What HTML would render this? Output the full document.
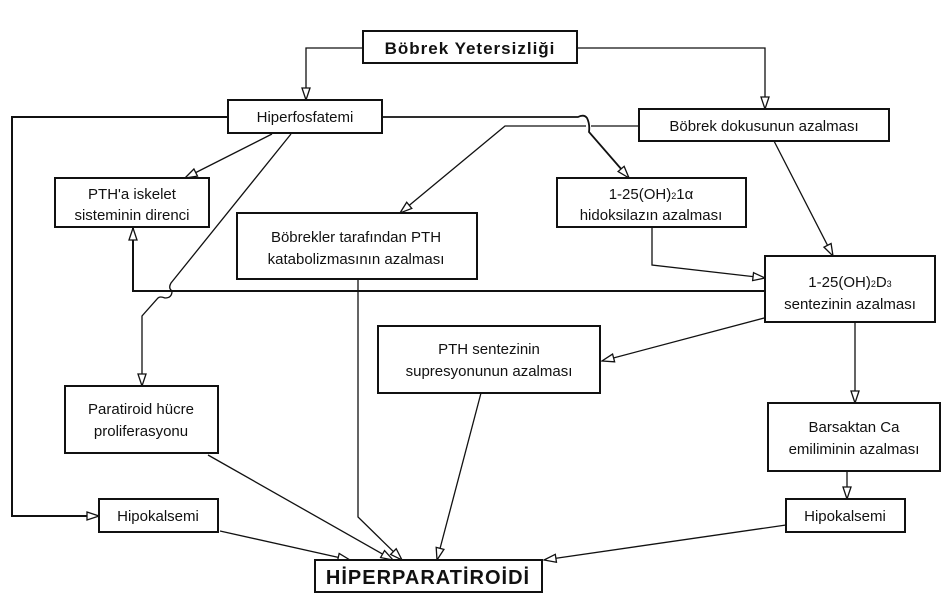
<!DOCTYPE html>
<html><head><meta charset="utf-8"><style>
body{margin:0;background:#fff}
svg{display:block}
text{font-family:"Liberation Sans",sans-serif;fill:#111;text-anchor:middle}
</style></head><body>
<svg width="952" height="595" viewBox="0 0 952 595" xmlns="http://www.w3.org/2000/svg">
<defs>
<marker id="a" viewBox="0 0 14 12" refX="13" refY="6" markerWidth="14" markerHeight="12" markerUnits="userSpaceOnUse" orient="auto">
<path d="M1,2 L13,6 L1,10 Z" fill="#fff" stroke="#111" stroke-width="1.3"/>
</marker>
</defs>
<g fill="none" stroke="#111" stroke-width="1.3">
<path d="M363,48 H306 V100" marker-end="url(#a)"/>
<path d="M578,48 H765 V109" marker-end="url(#a)"/>
<path d="M228,117 H12 V516 H99" stroke-width="2" marker-end="url(#a)"/>
<path d="M382,117 H578 Q584,114 587,118 Q590,124 589,132 L629,178" stroke-width="1.8" marker-end="url(#a)"/>
<path d="M639,126 H591 M586,126 H505 L400,213" marker-end="url(#a)"/>
<path d="M774,141 L833,256" marker-end="url(#a)"/>
<path d="M272,134 L185,178" marker-end="url(#a)"/>
<path d="M291,134 L171,283 Q168,288 172,291 Q172,298 165,298 Q160,296 158,298 L142,316 V386" marker-end="url(#a)"/>
<path d="M765,291 H133 V228" stroke-width="2" marker-end="url(#a)"/>
<path d="M358,279 V517 L402,560" marker-end="url(#a)"/>
<path d="M652,227 V265 L765,278" marker-end="url(#a)"/>
<path d="M768,317 L602,361" marker-end="url(#a)"/>
<path d="M855,323 V403" marker-end="url(#a)"/>
<path d="M847,471 V499" marker-end="url(#a)"/>
<path d="M786,525 L544,560" marker-end="url(#a)"/>
<path d="M208,455 L393,560" marker-end="url(#a)"/>
<path d="M220,531 L350,560" marker-end="url(#a)"/>
<path d="M481,393 L437,560" marker-end="url(#a)"/>
</g>
<g fill="#fff" stroke="#111" stroke-width="2">
<rect x="363" y="31" width="214" height="32"/>
<rect x="228" y="100" width="154" height="33"/>
<rect x="639" y="109" width="250" height="32"/>
<rect x="55" y="178" width="154" height="49"/>
<rect x="237" y="213" width="240" height="66"/>
<rect x="557" y="178" width="189" height="49"/>
<rect x="765" y="256" width="170" height="66"/>
<rect x="378" y="326" width="222" height="67"/>
<rect x="65" y="386" width="153" height="67"/>
<rect x="768" y="403" width="172" height="68"/>
<rect x="99" y="499" width="119" height="33"/>
<rect x="786" y="499" width="119" height="33"/>
<rect x="315" y="560" width="227" height="32"/>
</g>
<g font-size="15">
<text x="470" y="54" font-weight="bold" font-size="17" letter-spacing="1">Böbrek Yetersizliği</text>
<text x="305" y="122">Hiperfosfatemi</text>
<text x="764" y="131">Böbrek dokusunun azalması</text>
<text x="132" y="199">PTH'a iskelet</text>
<text x="132" y="220">sisteminin direnci</text>
<text x="356" y="242">Böbrekler tarafından PTH</text>
<text x="356" y="264">katabolizmasının azalması</text>
<text x="651" y="199">1-25(OH)<tspan font-size="9">2</tspan>1α</text>
<text x="651" y="220">hidoksilazın azalması</text>
<text x="850" y="287">1-25(OH)<tspan font-size="9">2</tspan>D<tspan font-size="9">3</tspan></text>
<text x="850" y="309">sentezinin azalması</text>
<text x="489" y="354">PTH sentezinin</text>
<text x="489" y="376">supresyonunun azalması</text>
<text x="141" y="414">Paratiroid hücre</text>
<text x="141" y="436">proliferasyonu</text>
<text x="854" y="432">Barsaktan Ca</text>
<text x="854" y="454">emiliminin azalması</text>
<text x="158" y="521">Hipokalsemi</text>
<text x="845" y="521">Hipokalsemi</text>
<text x="428" y="584" font-size="20" font-weight="bold" letter-spacing="1">HİPERPARATİROİDİ</text>
</g>
</svg>
</body></html>
